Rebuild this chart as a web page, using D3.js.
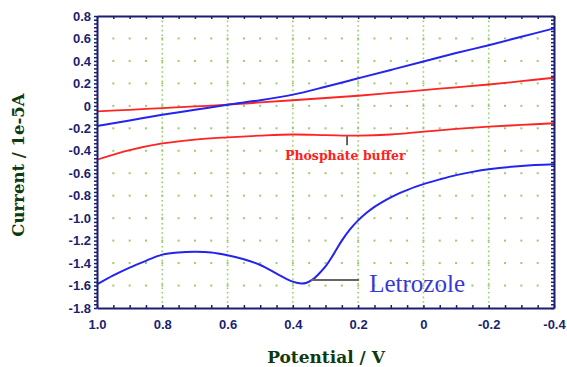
<!DOCTYPE html>
<html><head><meta charset="utf-8">
<script src="https://cdn.jsdelivr.net/npm/d3@7"></script>
<style>body{margin:0;background:#fff}svg{display:block}</style>
</head><body><svg id="c" width="567" height="367"></svg>
<script>
// ---- data ----
const potentialTicks = [1.0, 0.8, 0.6, 0.4, 0.2, 0, -0.2, -0.4];
const potentialTickLabels = ["1.0", "0.8", "0.6", "0.4", "0.2", "0", "-0.2", "-0.4"];
const currentTicks = [0.8, 0.6, 0.4, 0.2, 0, -0.2, -0.4, -0.6, -0.8, -1.0, -1.2, -1.4, -1.6, -1.8];
const currentTickLabels = ["0.8", "0.6", "0.4", "0.2", "0", "-0.2", "-0.4", "-0.6", "-0.8", "-1.0", "-1.2", "-1.4", "-1.6", "-1.8"];

const scanPotential = [1.0, 0.9, 0.8, 0.7, 0.6, 0.5, 0.4, 0.3, 0.2, 0.1, 0, -0.1, -0.2, -0.3, -0.4];
const letrozoleForward = [-0.18, -0.13, -0.08, -0.035, 0.01, 0.05, 0.10, 0.17, 0.245, 0.32, 0.395, 0.47, 0.54, 0.615, 0.69];
const bufferForward = [-0.05, -0.035, -0.02, -0.005, 0.01, 0.03, 0.05, 0.07, 0.09, 0.115, 0.14, 0.165, 0.19, 0.22, 0.25];
const bufferReverse = [-0.48, -0.395, -0.335, -0.30, -0.28, -0.265, -0.255, -0.26, -0.265, -0.255, -0.23, -0.205, -0.185, -0.17, -0.155];

const letrozolePotential = [1.0, 0.95, 0.9, 0.85, 0.8, 0.75, 0.7, 0.65, 0.6, 0.55, 0.5, 0.45, 0.42, 0.4, 0.38, 0.36, 0.34, 0.32, 0.3, 0.275, 0.25, 0.225, 0.2, 0.175, 0.15, 0.125, 0.1, 0.075, 0.05, 0.025, 0, -0.05, -0.1, -0.15, -0.2, -0.3, -0.4];
const letrozoleReverse = [-1.59, -1.51, -1.44, -1.38, -1.325, -1.305, -1.30, -1.305, -1.33, -1.366, -1.417, -1.493, -1.54, -1.565, -1.58, -1.577, -1.548, -1.495, -1.43, -1.32, -1.20, -1.10, -1.02, -0.955, -0.90, -0.855, -0.815, -0.78, -0.75, -0.722, -0.697, -0.655, -0.617, -0.588, -0.565, -0.535, -0.52];

// ---- layout ----
const W = 567, H = 367;
const m = {l: 97, t: 16, r: 13, b: 59};
const svg = d3.select("#c");
const x = d3.scaleLinear().domain([1.0, -0.4]).range([m.l, W - m.r]);
const y = d3.scaleLinear().domain([-1.8, 0.8]).range([H - m.b, m.t]);
const navy = "#1b1f6e", grid = "#9ccc6c";

const xMinor = d3.range(0, 29).map(i => 1.0 - i * 0.05);
const yMinor = d3.range(0, 79).map(i => -1.8 + i * (0.2 / 6));

// vertical dotted grid lines
svg.append("g").selectAll("line").data(potentialTicks.slice(1, -1)).join("line")
  .attr("x1", d => x(d)).attr("x2", d => x(d))
  .attr("y1", y(0.8)).attr("y2", y(-1.8))
  .attr("stroke", grid).attr("stroke-width", 1.6).attr("stroke-dasharray", "1.6,3");

// dot grid
const dots = [];
currentTicks.slice(1, -1).forEach(cv => xMinor.slice(1, -1).forEach(pv => dots.push([pv, cv])));
svg.append("g").selectAll("rect").data(dots).join("rect")
  .attr("x", d => x(d[0]) - 1).attr("y", d => y(d[1]) - 1)
  .attr("width", 2).attr("height", 2).attr("fill", grid);

// curves
const line = d3.line().x(d => x(d[0])).y(d => y(d[1])).curve(d3.curveCatmullRom.alpha(0.5));
const series = [
  {p: scanPotential, v: bufferForward, c: "#ff2424", w: 1.8},
  {p: scanPotential, v: bufferReverse, c: "#ff2424", w: 1.8},
  {p: scanPotential, v: letrozoleForward, c: "#2424f0", w: 2},
  {p: letrozolePotential, v: letrozoleReverse, c: "#2424f0", w: 2}
];
svg.append("g").selectAll("path").data(series).join("path")
  .attr("d", s => line(s.p.map((p, i) => [p, s.v[i]])))
  .attr("fill", "none").attr("stroke", s => s.c).attr("stroke-width", s => s.w);

// annotations
svg.append("line").attr("x1", x(0.234)).attr("x2", x(0.234))
  .attr("y1", y(-0.27)).attr("y2", y(-0.35)).attr("stroke", "#333").attr("stroke-width", 1.5);
svg.append("text").attr("x", x(0.424)).attr("y", y(-0.48))
  .attr("font-family", "DejaVu Serif").attr("font-weight", "bold").attr("font-size", 12.5)
  .attr("fill", "#ff2020").text("Phosphate buffer");
svg.append("line").attr("x1", x(0.345)).attr("x2", x(0.197))
  .attr("y1", y(-1.55)).attr("y2", y(-1.55)).attr("stroke", "#666").attr("stroke-width", 2);
svg.append("text").attr("x", x(0.166)).attr("y", y(-1.655))
  .attr("font-family", "Liberation Serif").attr("font-size", 25)
  .attr("fill", "#3838d8").text("Letrozole");

// axes frame
const ax = svg.append("g");
ax.append("g").attr("transform", `translate(0,${y(-1.8)})`)
  .call(d3.axisBottom(x).tickValues(xMinor).tickSizeInner(-3).tickSizeOuter(0).tickFormat(""));
const gbl = ax.append("g").attr("transform", `translate(0,${y(-1.8)})`)
  .call(d3.axisBottom(x).tickValues(potentialTicks).tickSize(0).tickPadding(12)
    .tickFormat((d, i) => potentialTickLabels[i]));
ax.append("g").attr("transform", `translate(0,${y(0.8)})`)
  .call(d3.axisTop(x).tickValues(xMinor).tickSizeInner(-3).tickSizeOuter(0).tickFormat(""));
ax.append("g").attr("transform", `translate(${x(1.0)},0)`)
  .call(d3.axisLeft(y).tickValues(yMinor).tickSizeInner(3).tickSizeOuter(0).tickFormat(""));
const gll = ax.append("g").attr("transform", `translate(${x(1.0)},0)`)
  .call(d3.axisLeft(y).tickValues(currentTicks).tickSize(0).tickPadding(6)
    .tickFormat((d, i) => currentTickLabels[i]));
ax.append("g").attr("transform", `translate(${x(-0.4)},0)`)
  .call(d3.axisRight(y).tickValues(yMinor).tickSizeInner(-3).tickSizeOuter(0).tickFormat(""));

ax.selectAll(".domain").attr("stroke", navy).attr("stroke-width", 2);
ax.selectAll(".tick line").attr("stroke", navy).attr("stroke-width", 1.5);
ax.selectAll(".tick text").attr("fill", navy).attr("font-family", "Liberation Sans")
  .attr("font-weight", "bold").attr("font-size", 13);
gbl.select(".domain").remove();
gll.select(".domain").remove();

// axis titles
svg.append("text").attr("x", 326).attr("y", 363).attr("text-anchor", "middle")
  .attr("font-family", "DejaVu Serif").attr("font-weight", "bold").attr("font-size", 17)
  .attr("fill", "#0f3a0f").text("Potential / V");
svg.append("text").attr("transform", "translate(24,165) rotate(-90)").attr("text-anchor", "middle")
  .attr("font-family", "DejaVu Serif").attr("font-weight", "bold").attr("font-size", 16.5)
  .attr("fill", "#0f3a0f").text("Current / 1e-5A");
</script></body></html>
